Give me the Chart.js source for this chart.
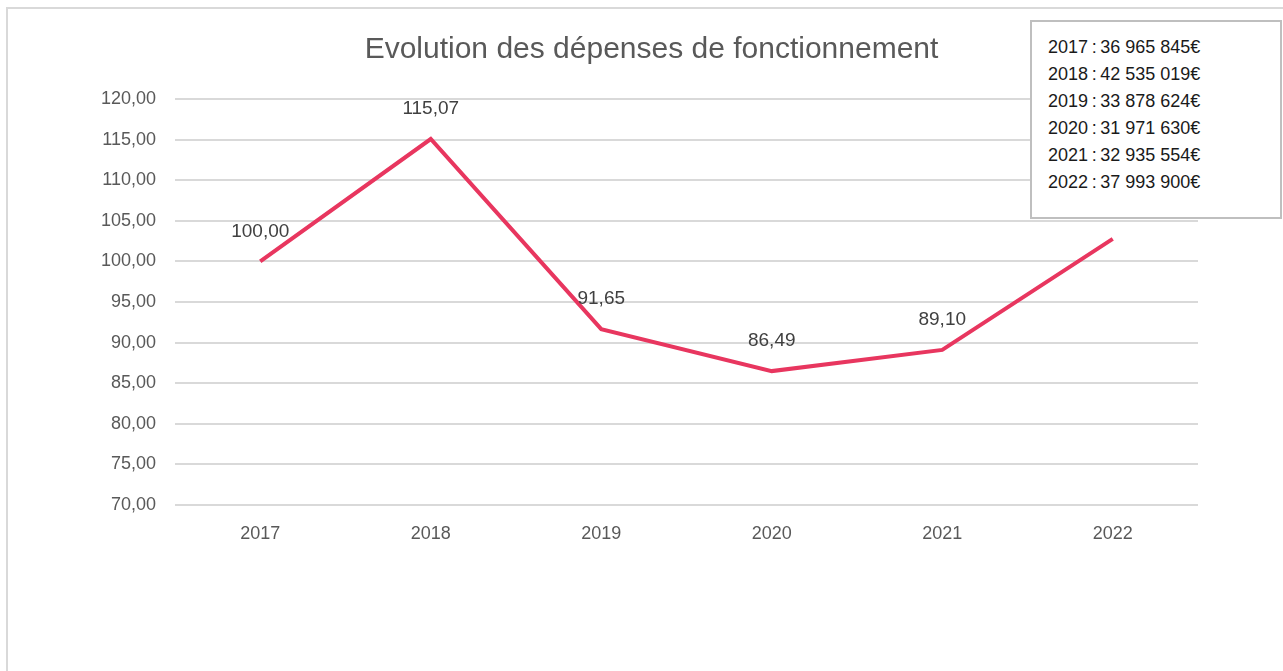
<!DOCTYPE html>
<html>
<head>
<meta charset="utf-8">
<script src="https://cdn.jsdelivr.net/npm/chart.js@4/dist/chart.umd.min.js"></script>
<style>
    html, body { margin: 0; padding: 0; background: #fff; }
    #wrap { position: relative; width: 1283px; height: 671px; overflow: hidden; }
    #frame {
        position: absolute; left: 6px; top: 7px; width: 1300px; height: 700px;
        border-left: 2px solid #d9d9d9; border-top: 2px solid #d9d9d9;
    }
    #amounts {
        position: absolute; left: 1030px; top: 20px; width: 252px; height: 199px;
        border: 2px solid #bfbfbf; background: #fff;
        font-family: "Liberation Sans", Arial, sans-serif; font-size: 18px; color: #1a1a1a;
        box-sizing: border-box; padding: 12px 0 0 16px; line-height: 26.9px;
    }
    canvas { position: absolute; left: 0; top: 0; }
</style>
</head>
<body>
<div id="wrap">
    <div id="frame"></div>
    <canvas id="chart" width="1283" height="671"></canvas>
    <div id="amounts"></div>
</div>
<script>
const years = ['2017', '2018', '2019', '2020', '2021', '2022'];
const indexValues = [100.00, 115.07, 91.65, 86.49, 89.10, 102.78];
const amountLabels = ['36 965 845€', '42 535 019€', '33 878 624€', '31 971 630€', '32 935 554€', '37 993 900€'];
const yTicks = [70, 75, 80, 85, 90, 95, 100, 105, 110, 115, 120];
const chartTitle = 'Evolution des dépenses de fonctionnement';

const fmt = v => v.toFixed(2).replace('.', ',');

// encart avec les montants
document.getElementById('amounts').innerHTML =
    years.map((y, i) => y + '\u2009:\u2009' + amountLabels[i]).join('<br>');

// titre + étiquettes de données
const labelsPlugin = {
    id: 'labels',
    afterDatasetsDraw(chart) {
        const ctx = chart.ctx;
        const meta = chart.getDatasetMeta(0);
        ctx.save();
        ctx.fillStyle = '#404040';
        ctx.font = '19px "Liberation Sans", Arial, sans-serif';
        ctx.textAlign = 'center';
        ctx.textBaseline = 'middle';
        meta.data.forEach((pt, i) => {
            ctx.fillText(fmt(indexValues[i]), pt.x, pt.y - 30);
        });
        ctx.fillStyle = '#595959';
        ctx.font = '30px "Liberation Sans", Arial, sans-serif';
        ctx.fillText(chartTitle, (chart.chartArea.left + chart.chartArea.right) / 2 - 35, 50);
        ctx.restore();
    }
};

new Chart(document.getElementById('chart'), {
    type: 'line',
    data: {
        labels: years,
        datasets: [{
            data: indexValues,
            borderColor: '#e8365f',
            borderWidth: 4,
            pointRadius: 0,
            tension: 0,
            fill: false
        }]
    },
    options: {
        responsive: false,
        animation: false,
        layout: { padding: { top: 99, right: 85, left: 0, bottom: 0 } },
        plugins: {
            legend: { display: false },
            tooltip: { enabled: false },
            title: { display: false }
        },
        scales: {
            x: {
                offset: true,
                grid: { display: false, drawTicks: false },
                border: { display: false },
                ticks: {
                    padding: 18,
                    color: '#595959',
                    font: { size: 18, family: '"Liberation Sans", Arial, sans-serif' }
                },
                afterFit(scale) { scale.height = 166; }
            },
            y: {
                min: 70,
                max: 120,
                afterBuildTicks(scale) { scale.ticks = yTicks.map(v => ({ value: v })); },
                grid: { color: '#d9d9d9', lineWidth: 2, drawTicks: false },
                border: { display: false },
                ticks: {
                    padding: 19,
                    color: '#595959',
                    font: { size: 18, family: '"Liberation Sans", Arial, sans-serif' },
                    callback: v => fmt(v)
                },
                afterFit(scale) { scale.width = 175; }
            }
        }
    },
    plugins: [labelsPlugin]
});
</script>
</body>
</html>
